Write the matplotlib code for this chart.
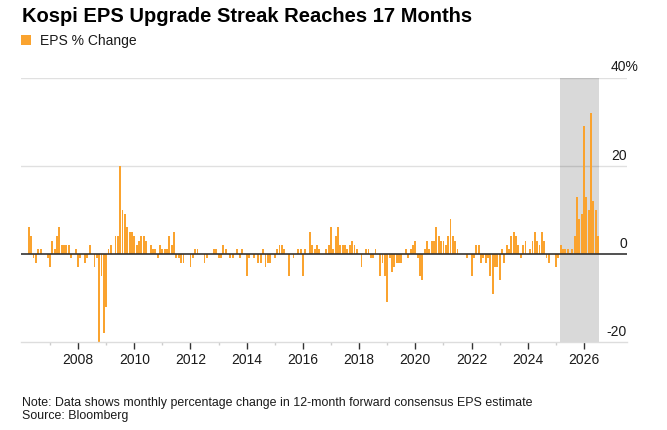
"""Kospi EPS upgrade streak - monthly change in 12m forward consensus EPS."""

import matplotlib

matplotlib.use("Agg")
import matplotlib.pyplot as plt
import numpy as np

plt.rcParams["font.family"] = ["Liberation Sans", "DejaVu Sans"]

# first bar is April 2006, one value per month
START_YEAR, START_MONTH = 2006, 4
eps_change = [
    6, 4, -1, -2, 1, 1, 0, 0, -1,                    # 2006 Apr-Dec
    -3, 3, 1, 4, 6, 2, 2, 2, 2, -1, 0, 1,            # 2007
    -3, -1, 0, -2, -1, 2, 0, -3, -1, -21, -5, -18,   # 2008
    -12, 1, 2, 0, 4, 4, 20, 10, 9, 6, 5, 5,          # 2009
    4, 2, 3, 4, 4, 3, 0, 2, 1, 1, -1, 2,             # 2010
    1, 1, 1, 4, 2, 5, -1, -1, -2, -2, 0, 0,          # 2011
    -3, -1, 1, 1, 0, 0, -2, -1, 0, 0, 1, 1,          # 2012
    -1, -1, 2, 1, 0, -1, -1, 0, 1, -1, 1, 0,         # 2013
    -5, -1, 0, -1, 0, -2, -2, 1, -3, -2, -2, 0,      # 2014
    -1, 1, 2, 2, 1, 0, -5, 0, -1, 0, 1, 1,           # 2015
    -5, 1, 0, 5, 2, 1, 2, 1, 0, 0, 1, 2,             # 2016
    6, 1, 4, 6, 2, 2, 2, 1, 2, 3, 2, 1,              # 2017
    0, -3, 0, 1, 1, -1, -1, 1, 0, -5, -2, -5,        # 2018
    -11, -1, -4, -3, -2, -2, -2, 0, 1, -1, 1, 2,     # 2019
    3, -1, -5, -6, 1, 3, 1, 3, 3, 6, 4, 3,           # 2020
    3, 2, 4, 8, 4, 3, 1, 0, 0, 0, -1, 0,             # 2021
    -5, -1, 2, 2, -2, -1, -2, -1, -5, -9, -3, -3,    # 2022
    -6, 1, -2, 2, 1, 4, 5, 4, 2, -1, 2, 3,           # 2023
    0, 1, 3, 5, 3, 2, 5, 3, -1, -2, 0, 0,            # 2024
    -3, -1, 2, 1, 1, 1, 0.3, 1, 4, 13, 8, 9,         # 2025
    29, 13, 10, 32, 12, 10, 4,                       # 2026 Jan-Jul
]

# upgrade streak (shaded), first and last month
streak_start = (2025, 3)
streak_end = (2026, 7)

y_ticks = [-20, 0, 20, 40]
y_labels = ["-20", "0", "20", "40%"]
major_years = list(range(2008, 2027, 2))
minor_years = list(range(2007, 2026, 2))

BAR_COLOR = "#FAA32F"
TEXT_COLOR = "#1a1a1a"


def month_pos(year, month):
    return year + (month - 1) / 12


def main():
    months = np.arange(len(eps_change))
    x = START_YEAR + (START_MONTH - 1 + months) / 12

    fig = plt.figure(figsize=(6.67, 4.30), dpi=100)
    ax = fig.add_axes([21 / 667, 1 - 342 / 430, 606 / 667, 264.3 / 430])

    shade_lo = month_pos(*streak_start) - 0.4 / 12
    shade_hi = month_pos(*streak_end) + 0.4 / 12
    ax.axvspan(shade_lo, shade_hi, color="#d9d9d9", lw=0, zorder=0)

    for v in y_ticks:
        if v not in (0, -20):
            ax.axhline(v, color="black", alpha=0.12, lw=1.0, zorder=1)

    ax.bar(x, eps_change, width=0.8 / 12, color=BAR_COLOR, lw=0, zorder=2,
           label="EPS % Change")
    ax.axhline(0, color="#333333", lw=1.2, zorder=3)

    ax.set_xlim(2005.97, 2027.53)
    ax.set_ylim(-20, 40)

    for side in ("top", "left", "right"):
        ax.spines[side].set_visible(False)
    ax.spines["bottom"].set_color("#dddddd")
    ax.spines["bottom"].set_linewidth(1.0)

    ax.set_xticks(major_years)
    ax.set_xticklabels([str(y) for y in major_years])
    ax.set_xticks(minor_years, minor=True)
    ax.tick_params(axis="x", which="major", length=5, width=1, color="#333333",
                   labelsize=10, labelcolor=TEXT_COLOR, pad=3)
    ax.tick_params(axis="x", which="minor", length=2.5, width=1, color="#cccccc")
    ax.set_yticks([])

    # right-hand value labels sit just above their gridlines, "%" hangs past the edge
    ytrans = ax.get_yaxis_transform()
    for v, lab in zip(y_ticks, y_labels):
        dx = 8 if lab.endswith("%") else 0
        ax.annotate(lab, xy=(1, v), xycoords=ytrans, xytext=(dx, 4.5),
                    textcoords="offset points", ha="right", va="baseline",
                    fontsize=10, color=TEXT_COLOR, annotation_clip=False)

    fig.text(22 / 667, 1 - 21.7 / 430, "Kospi EPS Upgrade Streak Reaches 17 Months",
             fontsize=14.5, fontweight="bold", va="baseline", color="black")
    fig.legend(loc="upper left", bbox_to_anchor=(21 / 667, 1 - 34 / 430),
               frameon=False, fontsize=10, handlelength=0.72, handleheight=0.72,
               handletextpad=0.62, borderpad=0, borderaxespad=0,
               labelcolor=TEXT_COLOR)

    fig.text(22 / 667, 1 - 406 / 430,
             "Note: Data shows monthly percentage change in 12-month forward "
             "consensus EPS estimate",
             fontsize=8.9, va="baseline", color=TEXT_COLOR)
    fig.text(22 / 667, 1 - 419 / 430, "Source: Bloomberg",
             fontsize=8.9, va="baseline", color=TEXT_COLOR)

    fig.savefig("out.png", dpi=100)
    plt.close(fig)


if __name__ == "__main__":
    main()
